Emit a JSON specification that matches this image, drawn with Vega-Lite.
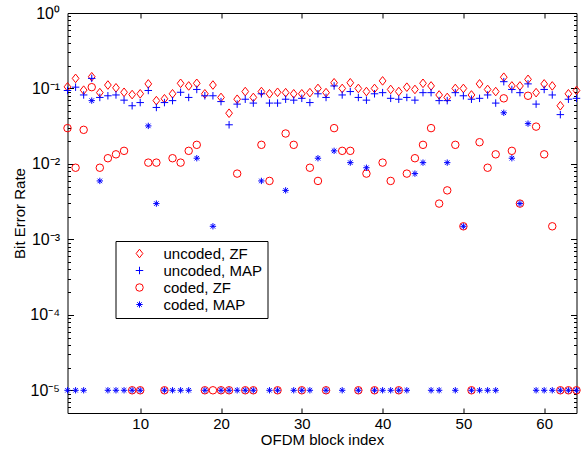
{
  "$schema": "https://vega.github.io/schema/vega-lite/v6.json",
  "width": 509,
  "height": 400,
  "autosize": "none",
  "padding": {"left": 67.5, "top": 13, "right": 8.5, "bottom": 46},
  "config": {
    "view": {"stroke": "black", "strokeWidth": 1},
    "font": "Liberation Sans",
    "axis": {
      "domain": false,
      "grid": false,
      "tickColor": "black",
      "tickWidth": 1,
      "labelColor": "black",
      "labelFont": "Liberation Sans",
      "labelFontSize": 15,
      "titleFont": "Liberation Sans",
      "titleFontSize": 15,
      "titleFontWeight": "normal",
      "titleColor": "black"
    },
    "legend": {
      "labelFont": "Liberation Sans",
      "labelFontSize": 15,
      "labelColor": "black",
      "strokeColor": "black",
      "fillColor": "white",
      "padding": 5,
      "symbolSize": 56,
      "symbolStrokeWidth": 1,
      "symbolOffset": 11.5,
      "labelOffset": 16.5,
      "rowPadding": 1
    }
  },
  "data": {
    "values": [
      {"i": 1, "uZF": 0.105, "uMAP": 0.094, "cZF": 0.0298, "cMAP": 0.00001},
      {"i": 2, "uZF": 0.136, "uMAP": 0.104, "cZF": 0.0089, "cMAP": 0.00001},
      {"i": 3, "uZF": 0.095, "uMAP": 0.082, "cZF": 0.0283, "cMAP": 0.00001},
      {"i": 4, "uZF": 0.143, "uMAP": 0.136, "cZF": 0.104, "cMAP": 0.069},
      {"i": 5, "uZF": 0.088, "uMAP": 0.076, "cZF": 0.0089, "cMAP": 0.00595},
      {"i": 6, "uZF": 0.111, "uMAP": 0.08, "cZF": 0.0119, "cMAP": 0.00001},
      {"i": 7, "uZF": 0.102, "uMAP": 0.082, "cZF": 0.0134, "cMAP": 0.00001},
      {"i": 8, "uZF": 0.089, "uMAP": 0.07, "cZF": 0.0149, "cMAP": 0.00001},
      {"i": 9, "uZF": 0.083, "uMAP": 0.059, "cZF": 0.00001, "cMAP": 0.00001},
      {"i": 10, "uZF": 0.085, "uMAP": 0.065, "cZF": 0.00001, "cMAP": 0.00001},
      {"i": 11, "uZF": 0.115, "uMAP": 0.094, "cZF": 0.0104, "cMAP": 0.0319},
      {"i": 12, "uZF": 0.069, "uMAP": 0.056, "cZF": 0.0104, "cMAP": 0.00298},
      {"i": 13, "uZF": 0.073, "uMAP": 0.065, "cZF": 0.00001, "cMAP": 0.00001},
      {"i": 14, "uZF": 0.085, "uMAP": 0.069, "cZF": 0.0119, "cMAP": 0.00001},
      {"i": 15, "uZF": 0.117, "uMAP": 0.089, "cZF": 0.0104, "cMAP": 0.00001},
      {"i": 16, "uZF": 0.108, "uMAP": 0.076, "cZF": 0.0149, "cMAP": 0.00001},
      {"i": 17, "uZF": 0.117, "uMAP": 0.097, "cZF": 0.0179, "cMAP": 0.0119},
      {"i": 18, "uZF": 0.085, "uMAP": 0.08, "cZF": 0.00001, "cMAP": 0.00001},
      {"i": 19, "uZF": 0.111, "uMAP": 0.08, "cZF": 0.00001, "cMAP": 0.00149},
      {"i": 20, "uZF": 0.076, "uMAP": 0.067, "cZF": 0.00001, "cMAP": 0.00001},
      {"i": 21, "uZF": 0.047, "uMAP": 0.033, "cZF": 0.00001, "cMAP": 0.00001},
      {"i": 22, "uZF": 0.072, "uMAP": 0.062, "cZF": 0.00744, "cMAP": 0.00001},
      {"i": 23, "uZF": 0.091, "uMAP": 0.072, "cZF": 0.00001, "cMAP": 0.00001},
      {"i": 24, "uZF": 0.076, "uMAP": 0.064, "cZF": 0.00001, "cMAP": 0.00001},
      {"i": 25, "uZF": 0.091, "uMAP": 0.085, "cZF": 0.0179, "cMAP": 0.00595},
      {"i": 26, "uZF": 0.085, "uMAP": 0.064, "cZF": 0.00595, "cMAP": 0.00001},
      {"i": 27, "uZF": 0.089, "uMAP": 0.064, "cZF": 0.00001, "cMAP": 0.00001},
      {"i": 28, "uZF": 0.088, "uMAP": 0.072, "cZF": 0.0253, "cMAP": 0.00446},
      {"i": 29, "uZF": 0.085, "uMAP": 0.07, "cZF": 0.0179, "cMAP": 0.00001},
      {"i": 30, "uZF": 0.085, "uMAP": 0.074, "cZF": 0.00001, "cMAP": 0.00001},
      {"i": 31, "uZF": 0.088, "uMAP": 0.065, "cZF": 0.0089, "cMAP": 0.00001},
      {"i": 32, "uZF": 0.1, "uMAP": 0.085, "cZF": 0.00595, "cMAP": 0.0119},
      {"i": 33, "uZF": 0.088, "uMAP": 0.076, "cZF": 0.00001, "cMAP": 0.00001},
      {"i": 34, "uZF": 0.119, "uMAP": 0.108, "cZF": 0.0298, "cMAP": 0.0149},
      {"i": 35, "uZF": 0.1, "uMAP": 0.082, "cZF": 0.0149, "cMAP": 0.00001},
      {"i": 36, "uZF": 0.119, "uMAP": 0.091, "cZF": 0.0149, "cMAP": 0.0104},
      {"i": 37, "uZF": 0.1, "uMAP": 0.076, "cZF": 0.00001, "cMAP": 0.00001},
      {"i": 38, "uZF": 0.091, "uMAP": 0.07, "cZF": 0.00744, "cMAP": 0.0089},
      {"i": 39, "uZF": 0.1, "uMAP": 0.085, "cZF": 0.00001, "cMAP": 0.00001},
      {"i": 40, "uZF": 0.126, "uMAP": 0.088, "cZF": 0.0104, "cMAP": 0.00001},
      {"i": 41, "uZF": 0.097, "uMAP": 0.074, "cZF": 0.00595, "cMAP": 0.00001},
      {"i": 42, "uZF": 0.091, "uMAP": 0.072, "cZF": 0.00001, "cMAP": 0.00001},
      {"i": 43, "uZF": 0.104, "uMAP": 0.076, "cZF": 0.00744, "cMAP": 0.00001},
      {"i": 44, "uZF": 0.097, "uMAP": 0.07, "cZF": 0.0119, "cMAP": 0.00744},
      {"i": 45, "uZF": 0.117, "uMAP": 0.088, "cZF": 0.0179, "cMAP": 0.0104},
      {"i": 46, "uZF": 0.108, "uMAP": 0.088, "cZF": 0.0298, "cMAP": 0.00001},
      {"i": 47, "uZF": 0.082, "uMAP": 0.069, "cZF": 0.00298, "cMAP": 0.00001},
      {"i": 48, "uZF": 0.076, "uMAP": 0.069, "cZF": 0.00446, "cMAP": 0.0104},
      {"i": 49, "uZF": 0.1, "uMAP": 0.088, "cZF": 0.0179, "cMAP": 0.00001},
      {"i": 50, "uZF": 0.1, "uMAP": 0.08, "cZF": 0.00149, "cMAP": 0.00149},
      {"i": 51, "uZF": 0.082, "uMAP": 0.072, "cZF": 0.00001, "cMAP": 0.00001},
      {"i": 52, "uZF": 0.115, "uMAP": 0.074, "cZF": 0.0194, "cMAP": 0.00001},
      {"i": 53, "uZF": 0.097, "uMAP": 0.082, "cZF": 0.0089, "cMAP": 0.00001},
      {"i": 54, "uZF": 0.091, "uMAP": 0.064, "cZF": 0.0134, "cMAP": 0.00001},
      {"i": 55, "uZF": 0.141, "uMAP": 0.123, "cZF": 0.074, "cMAP": 0.0476},
      {"i": 56, "uZF": 0.108, "uMAP": 0.097, "cZF": 0.0149, "cMAP": 0.0119},
      {"i": 57, "uZF": 0.108, "uMAP": 0.088, "cZF": 0.00298, "cMAP": 0.00298},
      {"i": 58, "uZF": 0.132, "uMAP": 0.115, "cZF": 0.08, "cMAP": 0.0342},
      {"i": 59, "uZF": 0.088, "uMAP": 0.062, "cZF": 0.0312, "cMAP": 0.00001},
      {"i": 60, "uZF": 0.115, "uMAP": 0.097, "cZF": 0.0134, "cMAP": 0.00001},
      {"i": 61, "uZF": 0.108, "uMAP": 0.082, "cZF": 0.00149, "cMAP": 0.00001},
      {"i": 62, "uZF": 0.059, "uMAP": 0.045, "cZF": 0.00001, "cMAP": 0.00001},
      {"i": 63, "uZF": 0.085, "uMAP": 0.072, "cZF": 0.00001, "cMAP": 0.00001},
      {"i": 64, "uZF": 0.094, "uMAP": 0.074, "cZF": 0.00001, "cMAP": 0.00001}
    ]
  },
  "transform": [{"fold": ["uZF", "uMAP", "cZF", "cMAP"], "as": ["series", "ber"]}],
  "layer": [
    {
      "mark": {"type": "point", "filled": false, "strokeWidth": 1, "size": 56, "opacity": 1},
      "encoding": {
        "x": {
          "field": "i", "type": "quantitative",
          "scale": {"domain": [1, 64], "nice": false, "zero": false},
          "axis": {
            "orient": "bottom",
            "values": [10, 20, 30, 40, 50, 60],
            "tickSize": -5,
            "labelPadding": 8,
            "title": "OFDM block index",
            "titlePadding": 1
          }
        },
        "y": {
          "field": "ber", "type": "quantitative",
          "scale": {"type": "log", "domain": [0.000005, 1], "nice": false},
          "axis": {
            "orient": "left",
            "values": [0.000005, 0.000006, 0.000007, 0.000008, 0.000009, 0.00001, 0.00002, 0.00003, 0.00004, 0.00005, 0.00006, 0.00007, 0.00008, 0.00009, 0.0001, 0.0002, 0.0003, 0.0004, 0.0005, 0.0006, 0.0007, 0.0008, 0.0009, 0.001, 0.002, 0.003, 0.004, 0.005, 0.006, 0.007, 0.008, 0.009, 0.01, 0.02, 0.03, 0.04, 0.05, 0.06, 0.07, 0.08, 0.09, 0.1, 0.2, 0.3, 0.4, 0.5, 0.6, 0.7, 0.8, 0.9, 1],
            "tickSize": {"condition": {"test": "abs(log(datum.value)/LN10 - round(log(datum.value)/LN10)) < 0.01", "value": -6}, "value": -3},
            "labelExpr": "abs(log(datum.value)/LN10 - round(log(datum.value)/LN10)) > 0.01 ? '' : (round(log(datum.value)/LN10) == 0 ? '10⁰' : '10⁻' + ['', '¹', '²', '³', '⁴', '⁵'][-round(log(datum.value)/LN10)])",
            "labelOverlap": false,
            "labelFontSize": 16,
            "labelPadding": 14,
            "title": "Bit Error Rate",
            "titlePadding": 2
          }
        },
        "color": {
          "field": "series", "type": "nominal",
          "scale": {"domain": ["uZF", "uMAP", "cZF", "cMAP"], "range": ["#ff0000", "#0000ff", "#ff0000", "#0000ff"]},
          "legend": {
            "orient": "none", "legendX": 48, "legendY": 228, "title": null,
            "labelExpr": "datum.label == 'uZF' ? 'uncoded, ZF' : datum.label == 'uMAP' ? 'uncoded, MAP' : datum.label == 'cZF' ? 'coded, ZF' : 'coded, MAP'"
          }
        },
        "shape": {
          "field": "series", "type": "nominal",
          "scale": {"domain": ["uZF", "uMAP", "cZF", "cMAP"], "range": ["M0,-1.15L0.9,0L0,1.15L-0.9,0Z", "M-1,0L1,0M0,-1L0,1", "circle", "M-0.85,0L0.85,0M0,-0.85L0,0.85M-0.6,-0.6L0.6,0.6M-0.6,0.6L0.6,-0.6"]},
          "legend": {
            "orient": "none", "legendX": 48, "legendY": 228, "title": null,
            "labelExpr": "datum.label == 'uZF' ? 'uncoded, ZF' : datum.label == 'uMAP' ? 'uncoded, MAP' : datum.label == 'cZF' ? 'coded, ZF' : 'coded, MAP'"
          }
        }
      }
    },
    {
      "mark": {"type": "point", "opacity": 0, "size": 1},
      "encoding": {
        "x": {
          "field": "i", "type": "quantitative",
          "axis": {"orient": "top", "values": [10, 20, 30, 40, 50, 60], "tickSize": -5, "labels": false, "title": null}
        },
        "y": {
          "field": "ber", "type": "quantitative",
          "axis": {
            "orient": "right",
            "values": [0.000005, 0.000006, 0.000007, 0.000008, 0.000009, 0.00001, 0.00002, 0.00003, 0.00004, 0.00005, 0.00006, 0.00007, 0.00008, 0.00009, 0.0001, 0.0002, 0.0003, 0.0004, 0.0005, 0.0006, 0.0007, 0.0008, 0.0009, 0.001, 0.002, 0.003, 0.004, 0.005, 0.006, 0.007, 0.008, 0.009, 0.01, 0.02, 0.03, 0.04, 0.05, 0.06, 0.07, 0.08, 0.09, 0.1, 0.2, 0.3, 0.4, 0.5, 0.6, 0.7, 0.8, 0.9, 1],
            "tickSize": {"condition": {"test": "abs(log(datum.value)/LN10 - round(log(datum.value)/LN10)) < 0.01", "value": -6}, "value": -3},
            "labels": false,
            "title": null
          }
        }
      }
    }
  ],
  "resolve": {"axis": {"x": "independent", "y": "independent"}}
}
